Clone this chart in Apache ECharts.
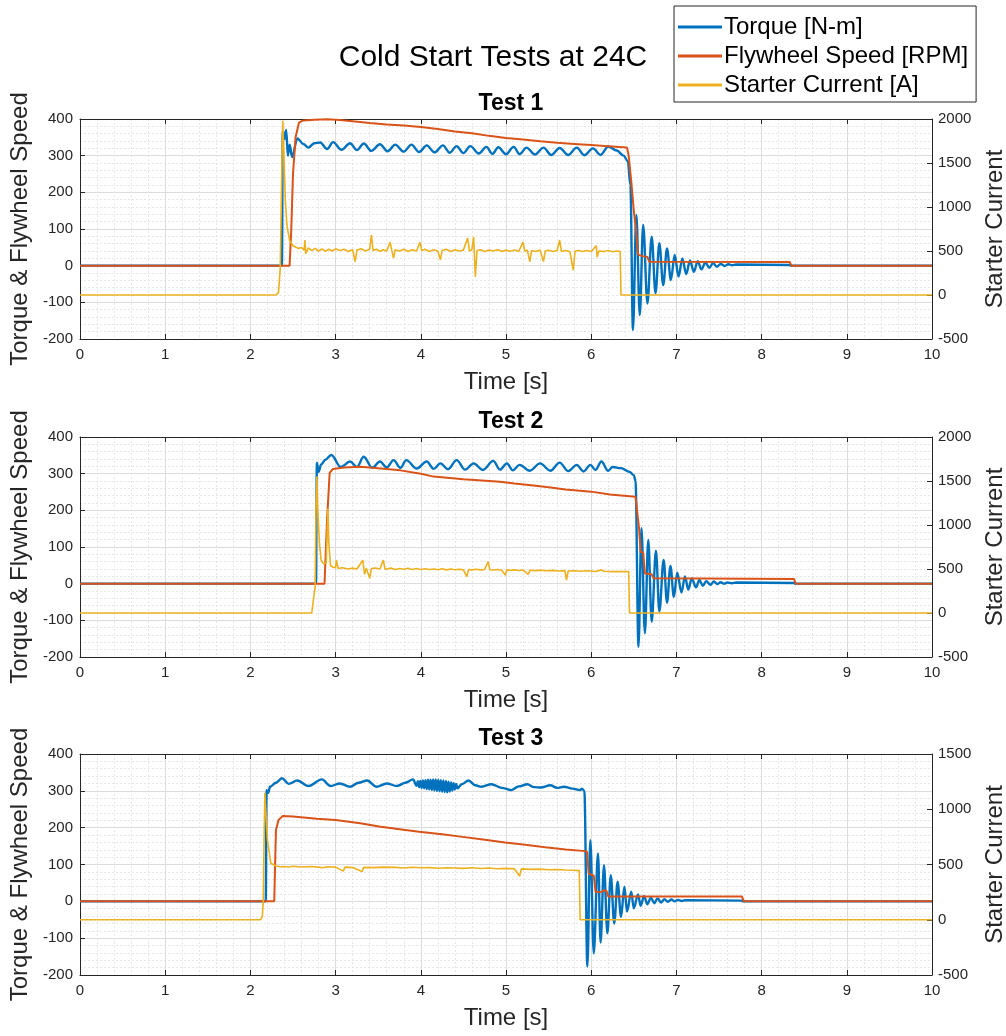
<!DOCTYPE html>
<html>
<head>
<meta charset="utf-8">
<script src="https://cdn.jsdelivr.net/npm/echarts@6/dist/echarts.min.js"></script>
<style>
  html, body { margin: 0; padding: 0; background: #fff; }
  #chart { width: 1006px; height: 1036px; }
</style>
</head>
<body>
<div id="chart"></div>
<script>
// series names / titles
const seriesNames = ['Torque [N-m]', 'Flywheel Speed [RPM]', 'Starter Current [A]']
const testTitles = ['Test 1', 'Test 2', 'Test 3']
const currentMax = [2000, 2000, 1500]

// Test 1 -- [time s, value]
const t1Torque = [
  [0, 0], [2.37, 0], [2.38, 368], [2.40, 345], [2.42, 370], [2.44, 300], [2.46, 330], [2.49, 296],
  [2.55, 347], [2.62, 332], [2.68, 322], [2.75, 334], [2.82, 336], [2.90, 318], [2.97, 337],
  [3.07, 316], [3.17, 334], [3.25, 315], [3.33, 333], [3.42, 313], [3.52, 331], [3.61, 312],
  [3.70, 330], [3.80, 311], [3.89, 330], [3.98, 310], [4.07, 328], [4.16, 309], [4.26, 328],
  [4.34, 308], [4.42, 326], [4.50, 307], [4.58, 326], [4.68, 306], [4.77, 324], [4.84, 305],
  [4.91, 323], [5.00, 304], [5.09, 324], [5.16, 304], [5.24, 322], [5.34, 303], [5.44, 322],
  [5.53, 302], [5.63, 321], [5.73, 302], [5.83, 322], [5.92, 301], [6.02, 320], [6.11, 302],
  [6.20, 325], [6.30, 314], [6.38, 300], [6.43, 285], [6.46, 220], [6.49, -175],
  [6.53, 138], [6.57, -135], [6.61, 111], [6.66, -103], [6.71, 79], [6.755, -75], [6.80, 61],
  [6.845, -53], [6.89, 47], [6.935, -39], [6.98, 29], [7.025, -30], [7.07, 20], [7.115, -23],
  [7.16, 14], [7.205, -17], [7.25, 12], [7.295, -10], [7.34, 9], [7.385, -6], [7.43, 7],
  [7.475, -3], [7.52, 5], [7.565, -1], [7.61, 4], [7.655, 1], [7.70, 3], [8.33, 2], [8.34, 0], [10, 0]
]
const t1Speed = [
  [0, 0], [2.46, 0], [2.48, 100], [2.50, 250], [2.53, 350], [2.57, 390], [2.62, 396], [2.75, 398],
  [2.90, 399], [3.05, 397], [3.20, 394], [3.40, 389], [3.60, 385], [3.80, 382], [4.00, 378],
  [4.20, 373], [4.40, 366], [4.60, 361], [4.80, 354], [5.00, 348], [5.20, 344], [5.40, 339],
  [5.60, 335], [5.80, 332], [6.00, 329], [6.20, 326], [6.42, 322], [6.44, 300], [6.47, 230],
  [6.50, 150], [6.52, 110], [6.55, 30], [6.60, 26], [6.66, 24], [6.68, 11], [8.33, 10],
  [8.35, 0], [10, 0]
]
const t1Current = [
  [0, 0], [2.30, 0], [2.33, 30], [2.35, 300], [2.37, 1500], [2.38, 1980], [2.39, 1700], [2.41, 1080],
  [2.43, 780], [2.46, 620], [2.50, 560], [2.53, 545], [2.56, 530], [2.60, 540], [2.63, 510],
  [2.64, 625], [2.65, 470], [2.68, 535], [2.72, 505], [2.76, 530], [2.80, 500], [2.84, 525],
  [2.88, 495], [2.92, 520], [2.96, 500], [3.00, 525], [3.05, 505], [3.10, 520], [3.15, 495],
  [3.20, 515], [3.23, 378], [3.25, 510], [3.30, 525], [3.35, 500], [3.40, 520], [3.42, 682],
  [3.44, 505], [3.48, 520], [3.52, 495], [3.56, 515], [3.60, 500], [3.64, 600], [3.66, 505],
  [3.68, 420], [3.70, 515], [3.75, 500], [3.80, 520], [3.85, 495], [3.90, 515], [3.95, 500],
  [3.99, 600], [4.01, 505], [4.05, 520], [4.10, 495], [4.15, 515], [4.20, 500], [4.23, 400],
  [4.25, 505], [4.30, 520], [4.35, 495], [4.40, 515], [4.45, 500], [4.50, 510], [4.55, 648],
  [4.57, 500], [4.60, 515], [4.62, 660], [4.64, 208], [4.66, 505], [4.70, 515], [4.75, 495],
  [4.80, 510], [4.85, 500], [4.90, 515], [4.95, 495], [5.00, 510], [5.05, 498], [5.10, 512],
  [5.15, 495], [5.20, 600], [5.22, 500], [5.25, 510], [5.28, 378], [5.30, 505], [5.35, 495],
  [5.40, 510], [5.44, 380], [5.46, 500], [5.50, 508], [5.55, 495], [5.60, 505], [5.63, 625],
  [5.65, 495], [5.70, 505], [5.75, 492], [5.79, 280], [5.81, 500], [5.85, 505], [5.90, 495],
  [5.95, 505], [6.00, 495], [6.06, 560], [6.07, 430], [6.09, 500], [6.15, 495], [6.20, 505],
  [6.25, 492], [6.30, 500], [6.34, 495], [6.35, 0], [10, 0]
]

// Test 2
const t2Torque = [
  [0, 0], [2.77, 0], [2.78, 330], [2.80, 305], [2.83, 325], [2.88, 338], [2.95, 351], [3.06, 318],
  [3.17, 333], [3.25, 318], [3.33, 346], [3.43, 316], [3.52, 333], [3.60, 317], [3.68, 337],
  [3.76, 316], [3.83, 337], [3.95, 314], [4.07, 333], [4.15, 313], [4.23, 328], [4.32, 312],
  [4.42, 337], [4.52, 311], [4.62, 328], [4.73, 310], [4.85, 335], [4.93, 311], [5.01, 328],
  [5.08, 309], [5.16, 324], [5.28, 308], [5.40, 328], [5.52, 308], [5.63, 330], [5.73, 307],
  [5.83, 324], [5.91, 306], [5.99, 324], [6.05, 310], [6.12, 333], [6.20, 308], [6.25, 318],
  [6.35, 315], [6.45, 305], [6.50, 296], [6.52, 280], [6.555, -172],
  [6.59, 151], [6.63, -135], [6.67, 119], [6.71, -104], [6.76, 90], [6.80, -76], [6.85, 65],
  [6.89, -52], [6.93, 48], [6.97, -36], [7.01, 30], [7.06, -24], [7.10, 20], [7.14, -16],
  [7.18, 14], [7.23, -10], [7.27, 10], [7.31, -6], [7.35, 7], [7.40, -3], [7.44, 6], [7.48, -1],
  [7.52, 4], [7.56, 0], [7.60, 3], [7.65, 1], [7.70, 3], [8.38, 2], [8.39, 0], [10, 0]
]
const t2Speed = [
  [0, 0], [2.87, 0], [2.88, 60], [2.90, 174], [2.93, 302], [2.97, 313], [3.10, 317], [3.29, 319],
  [3.50, 315], [3.76, 309], [4.00, 300], [4.15, 292], [4.50, 285], [4.93, 278], [5.10, 273],
  [5.32, 268], [5.50, 263], [5.70, 257], [6.00, 251], [6.22, 243], [6.52, 237], [6.56, 155],
  [6.58, 87], [6.61, 85], [6.63, 28], [6.71, 26], [6.73, 15], [8.38, 13], [8.40, 0], [10, 0]
]
const t2Current = [
  [0, 0], [2.72, 0], [2.74, 20], [2.76, 300], [2.77, 1200], [2.78, 1550], [2.79, 1200],
  [2.81, 800], [2.83, 600], [2.86, 560], [2.89, 570], [2.90, 900], [2.91, 1190], [2.92, 800],
  [2.94, 540], [2.97, 520], [3.00, 515], [3.01, 602], [3.03, 505], [3.08, 515], [3.15, 500],
  [3.20, 510], [3.25, 500], [3.32, 600], [3.34, 440], [3.36, 510], [3.40, 394], [3.42, 505],
  [3.47, 512], [3.52, 500], [3.56, 602], [3.58, 498], [3.65, 510], [3.70, 495], [3.75, 505],
  [3.80, 498], [3.85, 508], [3.90, 495], [3.95, 505], [4.00, 495], [4.05, 503], [4.10, 495],
  [4.15, 500], [4.20, 492], [4.25, 502], [4.30, 490], [4.35, 500], [4.40, 492], [4.45, 498],
  [4.50, 490], [4.54, 413], [4.56, 495], [4.60, 490], [4.65, 497], [4.70, 490], [4.75, 495],
  [4.79, 583], [4.81, 492], [4.85, 488], [4.90, 495], [4.95, 486], [4.99, 430], [5.01, 490],
  [5.05, 485], [5.10, 490], [5.15, 483], [5.20, 488], [5.26, 440], [5.28, 485], [5.35, 482],
  [5.40, 487], [5.47, 480], [5.55, 484], [5.62, 478], [5.69, 482], [5.71, 375], [5.73, 478],
  [5.80, 480], [5.87, 475], [5.95, 480], [6.05, 472], [6.12, 490], [6.15, 474], [6.25, 470],
  [6.35, 472], [6.44, 470], [6.45, 0], [10, 0]
]

// Test 3
const t3Torque = [
  [0, 0], [2.18, 0], [2.19, 302], [2.21, 295], [2.23, 311], [2.30, 322], [2.37, 334], [2.45, 319],
  [2.55, 328], [2.68, 313], [2.84, 331], [2.94, 313], [3.05, 320], [3.17, 311], [3.27, 322],
  [3.37, 328], [3.48, 311], [3.60, 320], [3.72, 313], [3.82, 322], [3.91, 331], [3.95, 314],
  [3.965, 326], [3.98, 310], [3.995, 327], [4.01, 308], [4.025, 328], [4.04, 307], [4.055, 329],
  [4.07, 305], [4.085, 330], [4.10, 304], [4.115, 330], [4.13, 302], [4.145, 331], [4.16, 301],
  [4.175, 331], [4.19, 300], [4.205, 330], [4.22, 299], [4.235, 329], [4.25, 298], [4.265, 328],
  [4.28, 297], [4.295, 327], [4.31, 296], [4.325, 325], [4.34, 298], [4.355, 323], [4.37, 301],
  [4.385, 321], [4.40, 304], [4.415, 319], [4.43, 307], [4.48, 318], [4.56, 328], [4.64, 315],
  [4.71, 311], [4.83, 318], [4.95, 308], [5.06, 302], [5.15, 312], [5.25, 318], [5.33, 310],
  [5.41, 309], [5.52, 315], [5.60, 308], [5.68, 311], [5.78, 306], [5.87, 302], [5.89, 306],
  [5.92, 300], [5.955, -177], [5.99, 166], [6.03, -141], [6.08, 130], [6.11, -112], [6.15, 98],
  [6.19, -87], [6.23, 71], [6.27, -60], [6.31, 53], [6.35, -42], [6.39, 40], [6.42, -28],
  [6.47, 26], [6.50, -19], [6.55, 19], [6.58, -12], [6.62, 14], [6.66, -8], [6.70, 10],
  [6.74, -5], [6.78, 8], [6.82, -3], [6.86, 6], [6.90, -1], [6.94, 5], [6.98, 0], [7.02, 4],
  [7.06, 1], [7.10, 3], [7.77, 2], [7.78, 0], [10, 0]
]
const t3Speed = [
  [0, 0], [2.28, 0], [2.29, 100], [2.30, 194], [2.33, 221], [2.38, 232], [2.50, 230], [2.78, 224],
  [3.00, 221], [3.29, 212], [3.51, 203], [3.75, 196], [3.98, 189], [4.25, 182], [4.49, 175],
  [4.73, 168], [4.99, 160], [5.20, 154], [5.46, 147], [5.70, 141], [5.90, 137], [5.95, 135],
  [5.97, 76], [6.00, 72], [6.03, 70], [6.05, 26], [6.12, 25], [6.15, 30], [6.18, 28], [6.20, 13],
  [7.77, 13], [7.79, 0], [10, 0]
]
const t3Current = [
  [0, 0], [2.12, 0], [2.14, 30], [2.15, 150], [2.16, 700], [2.17, 1150], [2.18, 1000],
  [2.20, 722], [2.24, 511], [2.30, 487], [2.35, 480], [2.40, 482], [2.45, 478], [2.50, 484],
  [2.60, 478], [2.70, 482], [2.80, 476], [2.85, 470], [2.90, 480], [3.00, 476], [3.09, 440],
  [3.11, 476], [3.20, 472], [3.31, 436], [3.33, 474], [3.45, 472], [3.55, 476], [3.70, 474],
  [3.80, 468], [3.90, 475], [4.00, 470], [4.10, 472], [4.20, 466], [4.30, 470], [4.40, 468],
  [4.50, 465], [4.60, 470], [4.70, 464], [4.80, 468], [4.90, 462], [5.00, 465], [5.10, 460],
  [5.16, 396], [5.18, 460], [5.30, 456], [5.40, 458], [5.50, 452], [5.60, 455], [5.70, 450],
  [5.80, 448], [5.86, 445], [5.87, 0], [10, 0]
]

const tests = [
  [t1Torque, t1Speed, t1Current],
  [t2Torque, t2Speed, t2Current],
  [t3Torque, t3Speed, t3Current]
]

const FONT = 'Liberation Sans, Arial, sans-serif'
const AXIS_COLOR = '#262626'
const colors = ['#0072BD', '#D95319', '#EDB120']
const lineWidths = [2.4, 2, 1.6]
const gridTops = [119, 437, 754]
const gridHeights = [220, 220, 221]

const myChart = echarts.init(document.getElementById('chart'), null, { renderer: 'canvas' })

const grid = [], xAxis = [], yAxis = [], series = [], title = []

title.push({
  text: 'Cold Start Tests at 24C',
  left: 488,
  top: 38,
  textAlign: 'center',
  textStyle: { fontFamily: FONT, fontSize: 30, fontWeight: 'normal', color: '#000' }
})

const majorLine = { show: true, lineStyle: { color: '#dcdcdc', width: 1 } }
const minorLine = { show: true, lineStyle: { color: '#e6e6e6', width: 1, type: [2, 2] } }
const tickLabel = { fontFamily: FONT, fontSize: 15, color: AXIS_COLOR }
const nameStyle = { fontFamily: FONT, fontSize: 24, color: AXIS_COLOR }

testTitles.forEach((name, k) => {
  grid.push({
    left: 80, width: 852, top: gridTops[k], height: gridHeights[k],
    containLabel: false, outerBoundsMode: 'none'
  })

  title.push({
    text: name,
    left: 506,
    top: gridTops[k] - 32,
    textAlign: 'center',
    textStyle: { fontFamily: FONT, fontSize: 23, fontWeight: 'bold', color: '#000' }
  })

  // bottom time axis
  xAxis.push({
    type: 'value', gridIndex: k, min: 0, max: 10, interval: 1,
    name: 'Time [s]', nameLocation: 'middle', nameGap: 31,
    nameTextStyle: nameStyle,
    axisLine: { show: true, onZero: false, lineStyle: { color: AXIS_COLOR } },
    axisTick: { show: true, inside: true, length: 5, lineStyle: { color: AXIS_COLOR } },
    axisLabel: { ...tickLabel, margin: 8 },
    splitLine: majorLine,
    minorTick: { show: false, splitNumber: 5 },
    minorSplitLine: minorLine
  })
  // top frame
  xAxis.push({
    type: 'value', gridIndex: k, min: 0, max: 10, interval: 1, position: 'top',
    axisLine: { show: true, onZero: false, lineStyle: { color: AXIS_COLOR } },
    axisTick: { show: true, inside: true, length: 5, lineStyle: { color: AXIS_COLOR } },
    axisLabel: { show: false },
    splitLine: { show: false }
  })
  // left: torque & speed
  yAxis.push({
    type: 'value', gridIndex: k, min: -200, max: 400, interval: 100,
    name: 'Torque & Flywheel Speed', nameLocation: 'middle', nameGap: 43,
    nameTextStyle: nameStyle,
    axisLine: { show: true, onZero: false, lineStyle: { color: AXIS_COLOR } },
    axisTick: { show: true, inside: true, length: 5, lineStyle: { color: AXIS_COLOR } },
    axisLabel: { ...tickLabel, margin: 7 },
    splitLine: majorLine,
    minorTick: { show: false, splitNumber: 5 },
    minorSplitLine: minorLine
  })
  // right: starter current
  yAxis.push({
    type: 'value', gridIndex: k, min: -500, max: currentMax[k], interval: 500, position: 'right',
    name: 'Starter Current', nameLocation: 'middle', nameGap: 51,
    nameTextStyle: nameStyle,
    axisLine: { show: true, onZero: false, lineStyle: { color: AXIS_COLOR } },
    axisTick: { show: true, inside: true, length: 5, lineStyle: { color: AXIS_COLOR } },
    axisLabel: { ...tickLabel, margin: 6, formatter: v => String(v) },
    splitLine: { show: false }
  })

  tests[k].forEach((data, i) => {
    series.push({
      name: seriesNames[i],
      type: 'line',
      xAxisIndex: k * 2,
      yAxisIndex: k * 2 + (i === 2 ? 1 : 0),
      data: data,
      showSymbol: false,
      symbol: 'none',
      // torque trace is a smooth ripple in the original
      smooth: i === 0 ? 0.35 : false,
      smoothMonotone: 'x',
      lineStyle: { color: colors[i], width: lineWidths[i] },
      itemStyle: { color: colors[i] },
      z: 2 + i
    })
  })
})

const option = {
  animation: false,
  backgroundColor: '#fff',
  title,
  legend: {
    data: seriesNames,
    orient: 'vertical',
    left: 674,
    top: 6,
    padding: [9, 8, 5, 4],
    itemGap: 5,
    itemWidth: 44,
    itemHeight: 3,
    icon: 'rect',
    backgroundColor: '#fff',
    borderColor: AXIS_COLOR,
    borderWidth: 1,
    borderRadius: 0,
    textStyle: { fontFamily: FONT, fontSize: 24, color: '#000', padding: [0, 0, 0, -3] }
  },
  grid,
  xAxis,
  yAxis,
  series
}

myChart.setOption(option)
</script>
</body>
</html>
